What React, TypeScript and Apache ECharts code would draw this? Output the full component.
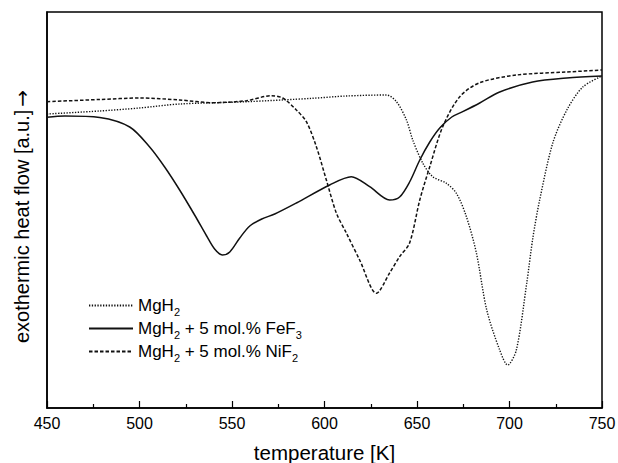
import React, { useEffect, useRef } from 'react';
import * as echarts from 'echarts';

// temperature [K] and heat flow (arbitrary units)
const tMgH2 = [450, 478.5, 500, 521.7, 557.8, 593.6, 611.8, 633.5, 638.9, 644.3, 647.7, 653.1, 658.5, 665.9, 671.3, 676.7, 682.1, 687.7, 694.7, 699.0, 703.7, 709.3, 712.7, 716.3, 723.4, 731.0, 739.6, 750];
const vMgH2 = [294, 297, 300, 304, 306.3, 309.7, 312, 313, 306.3, 288, 268, 245, 231.3, 224.7, 214.7, 191.3, 155, 98, 58, 43, 58, 124.7, 171, 208, 265, 298, 321, 332];

const tFeF3 = [450, 459.6, 478.5, 494.7, 505.5, 513.6, 521.7, 529.8, 536.3, 540.6, 544.8, 548.8, 554.2, 559.6, 566.1, 573.1, 584.8, 602.8, 614.5, 624.4, 635.2, 640.6, 646, 651.5, 656.9, 662.3, 668.8, 674.7, 683.9, 694.7, 712.5, 730.9, 750];
const vFeF3 = [290.7, 292, 290.5, 281, 261, 241, 218, 193, 172, 159, 153, 156, 170, 182, 189, 194, 205, 223, 231.3, 221.3, 208, 211, 226, 248, 266, 280, 291, 296.3, 305, 316, 326, 330, 332];

const tNiF2 = [450, 478.5, 500.1, 521.7, 539.6, 557.8, 571.3, 577.4, 584.8, 590.2, 595.6, 601, 606.4, 611.8, 619, 628.1, 635.2, 640.6, 646, 651.5, 656.9, 663.9, 673.1, 683.9, 703.9, 730.9, 750];
const vNiF2 = [306.3, 308.5, 310, 308, 305.3, 307.3, 312.3, 310, 298, 286.3, 261.3, 228, 195, 175, 148, 114.7, 135, 151.3, 165, 208, 241.3, 281.3, 311.3, 325.3, 333, 336, 338];

const seriesNames = ['MgH2', 'MgH2 + 5 mol.% FeF3', 'MgH2 + 5 mol.% NiF2'];
const legendRich: Record<string, string> = {
  'MgH2': '{m|MgH}{s|2}',
  'MgH2 + 5 mol.% FeF3': '{m|MgH}{s|2}{m| + 5 mol.% FeF}{s|3}',
  'MgH2 + 5 mol.% NiF2': '{m|MgH}{s|2}{m| + 5 mol.% NiF}{s|2}',
};

const xMin = 450;
const xMax = 750;
const xInterval = 50;

const FONT = 'Liberation Sans, Arial, Helvetica, sans-serif';

const zip = (t: number[], v: number[]) => t.map((x, i) => [x, v[i]]);

export default function App() {
  const ref = useRef<HTMLDivElement>(null);
  useEffect(() => {
    document.body.style.margin = '0';
    const chart = echarts.init(ref.current!, null, { renderer: 'svg' });
    const lineColor = '#111';
    chart.setOption({
      animation: false,
      backgroundColor: '#fff',
      textStyle: { fontFamily: FONT },
      grid: {
        left: 47,
        right: 16,
        top: 12,
        bottom: 55,
        show: true,
        borderColor: '#000',
        borderWidth: 1.5,
        containLabel: false,
        outerBoundsMode: 'none',
      },
      legend: {
        orient: 'vertical',
        left: 88,
        top: 297,
        padding: 0,
        itemWidth: 44,
        itemHeight: 10,
        itemGap: 3,
        itemStyle: { opacity: 0 },
        data: seriesNames,
        formatter: (name: string) => legendRich[name] || name,
        textStyle: {
          fontFamily: FONT,
          color: '#000',
          fontSize: 17,
          rich: {
            m: { fontSize: 17, lineHeight: 23, color: '#000', fontFamily: FONT },
            s: { fontSize: 11, lineHeight: 8, verticalAlign: 'bottom', color: '#000', fontFamily: FONT },
          },
        },
      },
      xAxis: {
        type: 'value',
        min: xMin,
        max: xMax,
        interval: xInterval,
        splitLine: { show: false },
        axisLine: { lineStyle: { color: '#000', width: 1.5 } },
        axisTick: { inside: true, length: 7, lineStyle: { color: '#000', width: 1.2 } },
        minorTick: { show: true, splitNumber: 2, length: 4, lineStyle: { color: '#000', width: 1.2 } },
        axisLabel: { fontSize: 16, color: '#000', margin: 7, fontFamily: FONT },
        name: 'temperature [K]',
        nameLocation: 'middle',
        nameGap: 34,
        nameTextStyle: { fontSize: 20.5, color: '#000', fontFamily: FONT },
      },
      yAxis: {
        type: 'value',
        min: 0,
        max: 396,
        splitLine: { show: false },
        axisLine: { show: true, lineStyle: { color: '#000', width: 1.5 } },
        axisTick: { show: false },
        axisLabel: { show: false },
        name: '{t|exothermic heat flow [a.u.]}{a|\u2192}',
        nameLocation: 'middle',
        nameGap: 15,
        nameTextStyle: {
          fontSize: 20,
          color: '#000',
          fontFamily: FONT,
          padding: [0, 13, 0, 0],
          rich: {
            t: { fontSize: 20, color: '#000', fontFamily: FONT },
            a: { fontSize: 20, color: '#000', fontFamily: 'DejaVu Sans', padding: [0, 0, 0, 3] },
          },
        },
      },
      series: [
        {
          name: seriesNames[0],
          type: 'line',
          symbol: 'none',
          smooth: 0.3,
          data: zip(tMgH2, vMgH2),
          lineStyle: { color: lineColor, width: 1.4, type: [1.3, 1.5] },
          itemStyle: { color: lineColor },
        },
        {
          name: seriesNames[1],
          type: 'line',
          symbol: 'none',
          smooth: 0.3,
          data: zip(tFeF3, vFeF3),
          lineStyle: { color: lineColor, width: 1.5, type: 'solid' },
          itemStyle: { color: lineColor },
        },
        {
          name: seriesNames[2],
          type: 'line',
          symbol: 'none',
          smooth: 0.3,
          data: zip(tNiF2, vNiF2),
          lineStyle: { color: lineColor, width: 1.5, type: [3.5, 2] },
          itemStyle: { color: lineColor },
        },
      ],
    });
    return () => chart.dispose();
  }, []);
  return <div ref={ref} style={{ width: 618, height: 463 }} />;
}
